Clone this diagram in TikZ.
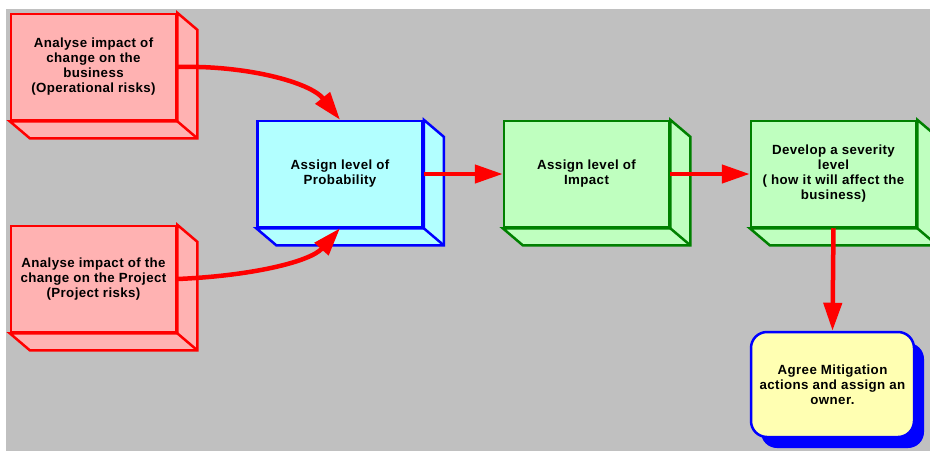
\documentclass[tikz,border=0pt]{standalone}
\usepackage{fontspec}
\newfontfamily\lblfont{Liberation Sans}[LetterSpace=3]
\usetikzlibrary{arrows.meta,calc,shadows}

\definecolor{bggray}{RGB}{192,192,192}
\definecolor{redfill}{RGB}{255,178,178}
\definecolor{cyanfill}{RGB}{178,255,255}
\definecolor{greenfill}{RGB}{191,255,191}
\definecolor{greenline}{RGB}{0,128,0}
\definecolor{yellowfill}{RGB}{255,255,178}

% side and bottom faces of an extruded box
\newcommand\drawdepth[3]{%
  \filldraw[fill=#2, draw=#3, line width=2.5pt, line join=miter]
    (#1.north east) -- ($(#1.north east)+(20,17)$)
    -- ($(#1.south east)+(20,17)$) -- ($(#1.south west)+(20,17)$)
    -- (#1.south west) -- (#1.south east) -- cycle;
  \draw[draw=#3, line width=2.5pt] (#1.south east) -- ($(#1.south east)+(20,17)$);
}

\tikzset{
  front/.style={rectangle, minimum width=165pt, minimum height=106pt,
    inner sep=0pt, line width=2.5pt, align=center, text=black,
    font=\lblfont\bfseries\fontsize{13.3}{15}\selectfont},
  flow/.style={draw=red, line width=4.5pt,
    -{Triangle[length=28pt,width=18pt]}},
}

\begin{document}
\begin{tikzpicture}[x=1pt, y=-1pt]
  \clip (0,0) rectangle (930,451);
  \fill[white] (0,0) rectangle (930,451);
  \fill[bggray] (6,9) rectangle (930,451);

  % input boxes
  \node[front, fill=redfill, draw=red] (ops) at (93.5,67)
    {Analyse impact of\\change on the\\business\\(Operational risks)};
  \drawdepth{ops}{redfill}{red}
  \node[front, fill=redfill, draw=red] (proj) at (93.5,279)
    {Analyse impact of the\\change on the Project\\(Project risks)};
  \drawdepth{proj}{redfill}{red}

  % assessment steps
  \node[front, fill=cyanfill, draw=blue] (prob) at (340,174)
    {Assign level of\\Probability};
  \drawdepth{prob}{cyanfill}{blue}
  \node[front, fill=greenfill, draw=greenline] (imp) at (586.5,174)
    {Assign level of\\Impact};
  \drawdepth{imp}{greenfill}{greenline}
  \node[front, fill=greenfill, draw=greenline] (sev) at (833.5,174)
    {Develop a severity\\level\\( how it will affect the\\business)};
  \drawdepth{sev}{greenfill}{greenline}

  % outcome
  \node[front, minimum width=163pt, minimum height=105pt, rounded corners=16pt,
        fill=yellowfill, draw=blue,
        general shadow={fill=blue, shadow xshift=10pt, shadow yshift=-11pt}]
    (act) at (832.5,384.5)
    {Agree Mitigation\\actions and assign an\\owner.};

  % connectors
  \draw[flow] (ops.east) .. controls (245,65) and (310,82) .. (prob.north);
  \draw[flow] (proj.east) .. controls (250,276) and (310,262) .. (prob.south);
  \draw[flow] (prob.east) -- (imp.west);
  \draw[flow] (imp.east) -- (sev.west);
  \draw[flow] (sev.south) -- (act.north);
\end{tikzpicture}
\end{document}
